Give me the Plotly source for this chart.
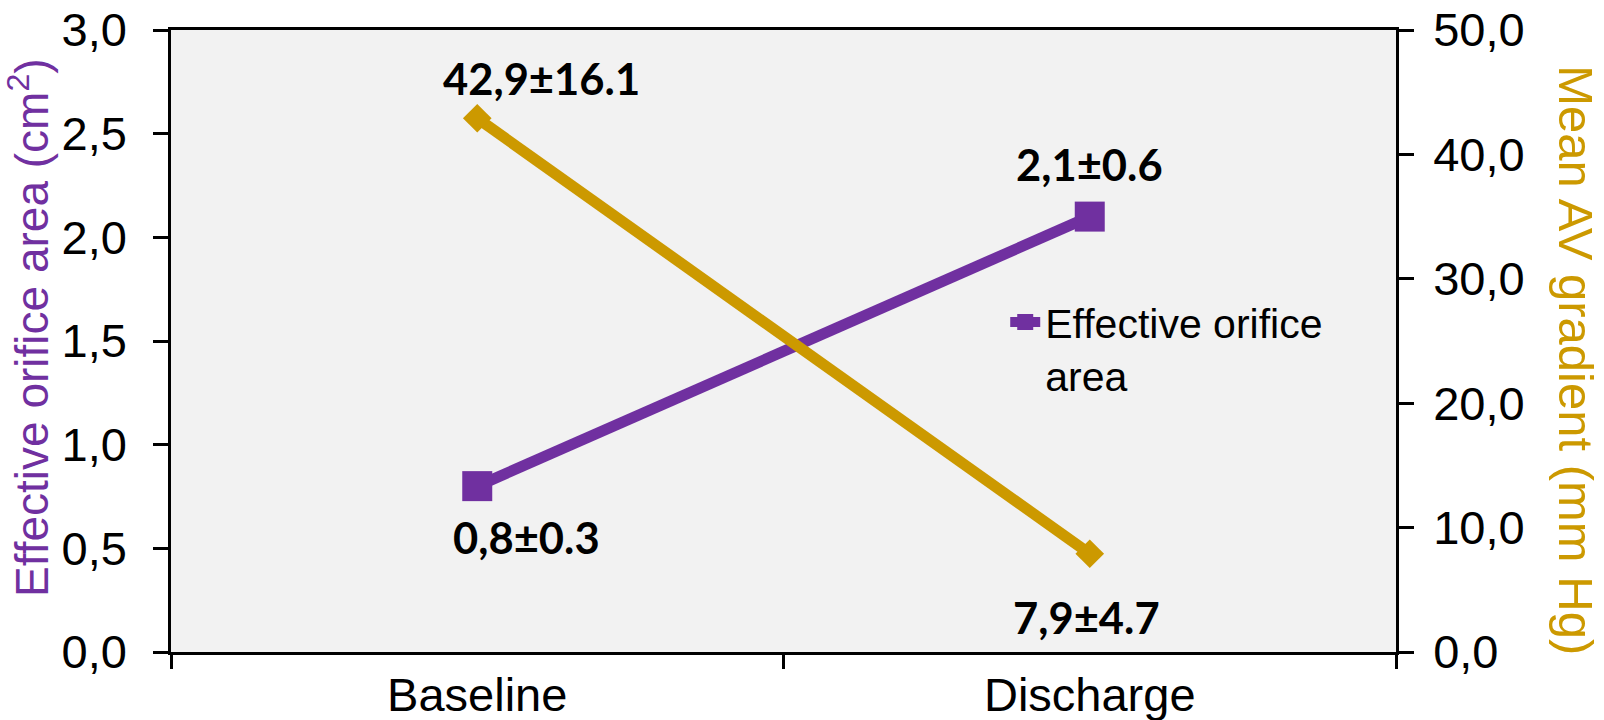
import plotly.graph_objects as go

# Study time points
categories = ["Baseline", "Discharge"]

# Effective orifice area (cm²): mean and SD
eoa_mean = [0.8, 2.1]
eoa_sd = [0.3, 0.6]

# Mean AV gradient (mm Hg): mean and SD
grad_mean = [42.9, 7.9]
grad_sd = [16.1, 4.7]

# Axis tick values and labels (comma decimal)
eoa_ticks = [0.0, 0.5, 1.0, 1.5, 2.0, 2.5, 3.0]
eoa_ticktext = ["0,0", "0,5", "1,0", "1,5", "2,0", "2,5", "3,0"]
grad_ticks = [0, 10, 20, 30, 40, 50]
grad_ticktext = ["0,0", "10,0", "20,0", "30,0", "40,0", "50,0"]

PURPLE = "#7030A0"
GOLD = "#CC9900"
SANS = "Liberation Sans, Arial, sans-serif"
TICK_FONT = dict(family=SANS, size=47, color="black")
LABEL_FONT = dict(family="Lato, sans-serif", size=43.5, color="black", weight="bold")


def fmt(mean, sd):
    return f"{mean:.1f}".replace(".", ",") + "±" + f"{sd:.1f}"


fig = go.Figure()

fig.add_trace(go.Scatter(
    x=categories, y=eoa_mean, name="Effective orifice<br>area",
    mode="lines+markers",
    line=dict(color=PURPLE, width=11),
    marker=dict(symbol="square", size=30, color=PURPLE),
    yaxis="y", showlegend=True,
))

fig.add_trace(go.Scatter(
    x=categories, y=grad_mean, name="Mean AV gradient",
    mode="lines+markers",
    line=dict(color=GOLD, width=11),
    marker=dict(symbol="diamond", size=22, color=GOLD),
    yaxis="y2", showlegend=False,
))

annotations = []
# value labels for the area series: below at baseline, above at discharge
eoa_offsets = [(49, -51), (0, 53)]
for cat, m, s, (dx, dy) in zip(categories, eoa_mean, eoa_sd, eoa_offsets):
    annotations.append(dict(
        x=cat, y=m, xref="x", yref="y", text=fmt(m, s), showarrow=False,
        xshift=dx, yshift=dy, font=LABEL_FONT,
    ))
# value labels for the gradient series
grad_offsets = [(64, 40), (-3, -63)]
for cat, m, s, (dx, dy) in zip(categories, grad_mean, grad_sd, grad_offsets):
    annotations.append(dict(
        x=cat, y=m, xref="x", yref="y2", text=fmt(m, s), showarrow=False,
        xshift=dx, yshift=dy, font=LABEL_FONT,
    ))

# axis titles
annotations.append(dict(
    text="Effective orifice area (cm<sup>2</sup>)", textangle=-90,
    xref="paper", yref="paper", x=-0.116, y=0.5225,
    xanchor="center", yanchor="middle", showarrow=False,
    font=dict(family=SANS, size=46, color=PURPLE),
))
annotations.append(dict(
    text="Mean AV gradient (mm Hg)", textangle=90,
    xref="paper", yref="paper", x=1.147, y=0.469,
    xanchor="center", yanchor="middle", showarrow=False,
    font=dict(family=SANS, size=49, color=GOLD),
))

fig.update_layout(
    width=1604, height=720,
    margin=dict(l=171, r=208, t=30, b=68, autoexpand=False),
    paper_bgcolor="white",
    plot_bgcolor="#F2F2F2",
    xaxis=dict(
        type="category", range=[-0.5, 1.5], tickson="boundaries",
        showline=True, linecolor="black", linewidth=3, mirror=True,
        ticks="outside", ticklen=14, tickwidth=2.5, tickcolor="black",
        tickfont=TICK_FONT, ticklabelstandoff=0,
        showgrid=False, zeroline=False, automargin=False,
    ),
    yaxis=dict(
        range=[0, 3], tickvals=eoa_ticks, ticktext=eoa_ticktext,
        showline=True, linecolor="black", linewidth=2.5,
        ticks="outside", ticklen=15, tickwidth=2.5, tickcolor="black",
        tickfont=TICK_FONT, ticklabelstandoff=17,
        showgrid=False, zeroline=False, automargin=False,
    ),
    yaxis2=dict(
        range=[0, 50], tickvals=grad_ticks, ticktext=grad_ticktext,
        overlaying="y", side="right",
        showline=True, linecolor="black", linewidth=2.5,
        ticks="outside", ticklen=15, tickwidth=2.5, tickcolor="black",
        tickfont=TICK_FONT, ticklabelstandoff=10,
        showgrid=False, zeroline=False, automargin=False,
    ),
    legend=dict(
        x=0.681, y=0.584, xanchor="left", yanchor="top",
        bgcolor="rgba(0,0,0,0)", valign="top",
        font=dict(family=SANS, size=41, color="black"),
        itemwidth=30,
    ),
    annotations=annotations,
)

fig.write_html("out.html")
